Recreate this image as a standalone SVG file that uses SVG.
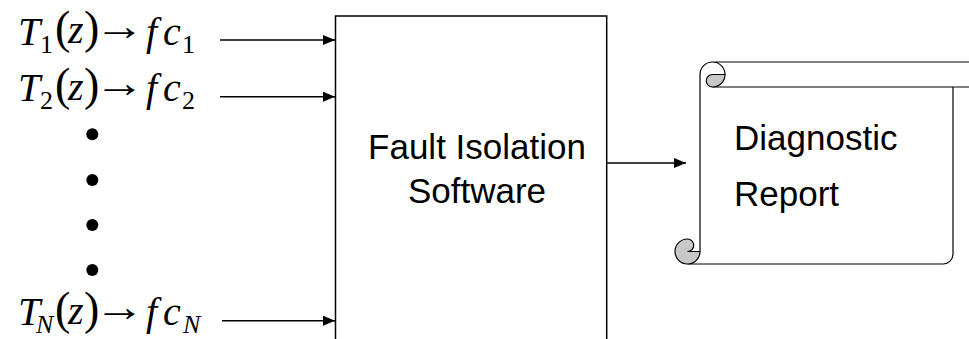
<svg xmlns="http://www.w3.org/2000/svg" width="969" height="339" viewBox="0 0 969 339">
<style>
.math{font-family:'Liberation Serif','Times New Roman',serif;fill:#000}
.it{font-style:italic;font-size:40px}
.par{font-style:normal;font-size:46px}
.arr{font-family:'Liberation Serif','Times New Roman',serif;font-size:40px;fill:#000}
.sub{font-style:normal;font-size:26px}
.subi{font-style:italic;font-size:26px}
.lbl{font-family:'Liberation Sans',Arial,sans-serif;font-size:35px;fill:#000}
.ln{stroke:#000;stroke-width:1.5;fill:none}
.sc{stroke:#000;stroke-width:1.2;fill:none}
.gr{stroke:#000;stroke-width:1.2;fill:#c8c8c8}
.dot{fill:#000}
</style>
<defs>
<marker id="ah" markerWidth="12" markerHeight="10" refX="12" refY="5" orient="auto" markerUnits="userSpaceOnUse">
<path d="M0,0 L12,5 L0,10 Z" fill="#000"/>
</marker>
</defs>
<rect width="969" height="339" fill="#fff"/>

<g id="input-1">
<text class="math" y="44.5"><tspan class="it" x="18">T</tspan><tspan class="sub" x="40" y="52.5">1</tspan><tspan class="par" x="55" y="43">(</tspan><tspan class="it" x="68">z</tspan><tspan class="par" x="84">)</tspan><tspan class="it" x="146" y="44.5">f</tspan><tspan class="it" x="163">c</tspan><tspan class="sub" x="182" y="52.5">1</tspan></text>
<text class="arr" transform="translate(94.5,40) scale(1.26,1.05)">→</text>
</g>
<g id="input-2">
<text class="math" y="101"><tspan class="it" x="18">T</tspan><tspan class="sub" x="40" y="109">2</tspan><tspan class="par" x="55" y="99.5">(</tspan><tspan class="it" x="68">z</tspan><tspan class="par" x="84">)</tspan><tspan class="it" x="146" y="101">f</tspan><tspan class="it" x="163">c</tspan><tspan class="sub" x="182" y="109">2</tspan></text>
<text class="arr" transform="translate(94.5,96.5) scale(1.26,1.05)">→</text>
</g>
<g id="ellipsis">
<circle class="dot" cx="92.3" cy="134.3" r="6"/>
<circle class="dot" cx="92.3" cy="180" r="6"/>
<circle class="dot" cx="92.3" cy="225" r="6"/>
<circle class="dot" cx="92.3" cy="270" r="6"/>
</g>
<g id="input-N">
<text class="math" y="325"><tspan class="it" x="18">T</tspan><tspan class="subi" x="36" y="333">N</tspan><tspan class="par" x="55" y="323.5">(</tspan><tspan class="it" x="68">z</tspan><tspan class="par" x="84">)</tspan><tspan class="it" x="146" y="325">f</tspan><tspan class="it" x="163">c</tspan><tspan class="subi" x="183" y="333">N</tspan></text>
<text class="arr" transform="translate(94.5,320.5) scale(1.26,1.05)">→</text>
</g>

<g id="fault-isolation-software">
<rect class="ln" x="335.5" y="16" width="271.2" height="340"/>
<text class="lbl" text-anchor="middle"><tspan x="477" y="159">Fault Isolation</tspan><tspan x="477" y="202.5">Software</tspan></text>
</g>

<g id="diagnostic-report">
<path class="sc" d="M712.5,62 L980,62 M712.5,87 L980,87 M953,87 L953,254 A10,10 0 0 1 943,264 L687.5,264 M700,251.5 L700,74.5 A12.5,12.5 0 0 1 712.5,62 A12.5,12.5 0 0 1 725,74.5"/>
<path class="gr" d="M712.5,74.5 L725,74.5 A12.5,12.5 0 0 1 712.5,87 A6.25,6.25 0 0 1 712.5,74.5 Z"/>
<path class="gr" d="M687.5,251.5 A6.25,6.25 0 0 0 687.5,239 A12.5,12.5 0 1 0 700,251.5 Z"/>
<text class="lbl"><tspan x="734" y="150">Diagnostic</tspan><tspan x="734" y="206">Report</tspan></text>
</g>

<g id="connectors">
<line class="ln" x1="220" y1="40" x2="335" y2="40" marker-end="url(#ah)"/>
<line class="ln" x1="220" y1="96.7" x2="335" y2="96.7" marker-end="url(#ah)"/>
<line class="ln" x1="222" y1="320.7" x2="335" y2="320.7" marker-end="url(#ah)"/>
<line class="ln" x1="607" y1="163" x2="686" y2="163" marker-end="url(#ah)"/>
</g>
</svg>
